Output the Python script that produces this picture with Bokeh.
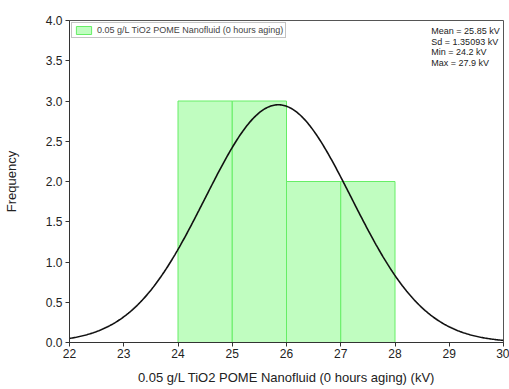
import numpy as np
from bokeh.plotting import figure
from bokeh.models import ColumnDataSource, Label, Legend, LegendItem, Range1d, FixedTicker
from bokeh.embed import file_html
from bokeh.resources import INLINE

# Histogram bins (kV) and counts
bin_left = [24, 25, 26, 27]
bin_right = [25, 26, 27, 28]
counts = [3, 3, 2, 2]

# Summary statistics of the breakdown voltage sample
mean_kv = 25.85
sd_kv = 1.35093
min_kv = 24.2
max_kv = 27.9
n_samples = 10
bin_width = 1.0

x_ticks = [22, 23, 24, 25, 26, 27, 28, 29, 30]
y_ticks = [0.0, 0.5, 1.0, 1.5, 2.0, 2.5, 3.0, 3.5, 4.0]

FONT = "Liberation Sans"

p = figure(width=509, height=389, output_backend="svg", toolbar_location=None,
           x_range=Range1d(22, 30), y_range=Range1d(0, 4),
           min_border_left=68, min_border_right=6, min_border_top=20, min_border_bottom=47)
p.grid.visible = False
p.outline_line_color = "#555555"
p.outline_line_width = 1

src = ColumnDataSource(dict(left=bin_left, right=bin_right, top=counts, bottom=[0] * len(counts)))
bars = p.quad(left="left", right="right", top="top", bottom="bottom", source=src,
              fill_color="#c0fdc0", line_color="#66ee66", line_width=1)

# Normal distribution curve fitted to the sample
xs = np.linspace(22, 30, 400)
ys = n_samples * bin_width / (sd_kv * np.sqrt(2 * np.pi)) * np.exp(-0.5 * ((xs - mean_kv) / sd_kv) ** 2)
p.line(xs, ys, line_color="#111111", line_width=1.6)

for ax in (p.xaxis[0], p.yaxis[0]):
    ax.axis_line_color = "#333333"
    ax.major_tick_line_color = "#333333"
    ax.major_tick_out = 4
    ax.major_tick_in = 0
    ax.minor_tick_line_color = None
    ax.major_label_text_font = FONT
    ax.major_label_text_font_size = "12px"
    ax.major_label_text_color = "#222222"
    ax.axis_label_text_font = FONT
    ax.axis_label_text_font_size = "13px"
    ax.axis_label_text_font_style = "normal"
    ax.axis_label_text_color = "#222222"

p.xaxis.ticker = FixedTicker(ticks=x_ticks)
p.yaxis.ticker = FixedTicker(ticks=y_ticks)
p.yaxis.major_label_overrides = {v: f"{v:.1f}" for v in y_ticks}
p.xaxis.axis_label = "0.05 g/L TiO2 POME Nanofluid (0 hours aging) (kV)"
p.yaxis.axis_label = "Frequency"
p.xaxis.major_label_standoff = 2
p.xaxis.axis_label_standoff = 9
p.yaxis.major_label_standoff = 3
p.yaxis.axis_label_standoff = 24

legend = Legend(items=[LegendItem(label="0.05 g/L TiO2 POME Nanofluid (0 hours aging)", renderers=[bars])],
                location="top_left", label_text_font=FONT, label_text_font_size="9px",
                glyph_width=19, glyph_height=10, label_height=10, padding=2, spacing=0,
                margin=2, border_line_color="#888888", label_standoff=4,
                background_fill_alpha=1.0)
p.add_layout(legend)

stats = [f"Mean = {mean_kv} kV", f"Sd = {sd_kv} kV", f"Min = {min_kv} kV", f"Max = {max_kv} kV"]
for i, s in enumerate(stats):
    p.add_layout(Label(x=28.67, y=3.93 - i * 0.13, text=s, text_font=FONT, text_font_size="9px",
                       text_color="#222222", text_baseline="top"))

open("out.html", "w").write(file_html(p, INLINE))
